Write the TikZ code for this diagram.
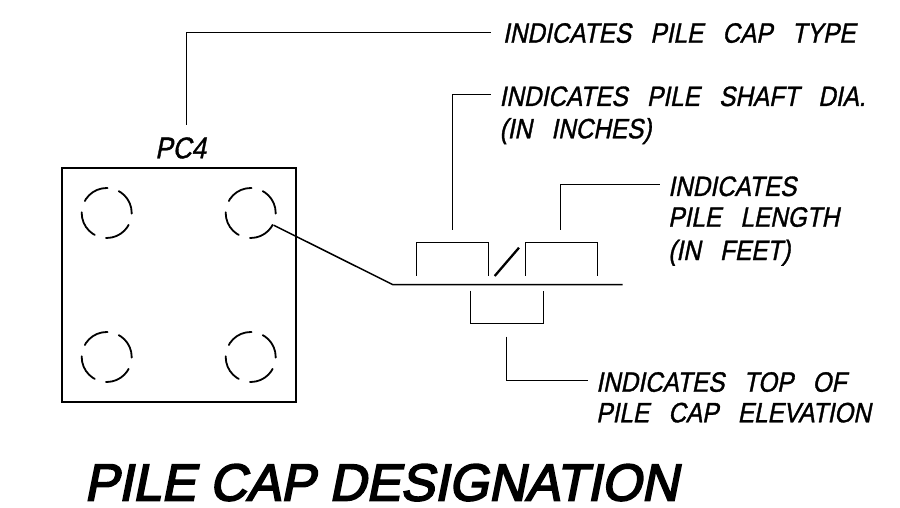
\documentclass[tikz,border=0pt]{standalone}
\usepackage{fontspec}
\newfontfamily\lblfont{Liberation Sans}[FakeStretch=0.87,FakeSlant=0.2,FakeBold=1.2,WordSpace=2.85]
\newfontfamily\titlefont{Liberation Sans}[FakeStretch=0.985,FakeSlant=0.2,FakeBold=3.4]
\tikzset{
  lbl/.style={anchor=base west,inner sep=0pt,font=\lblfont\fontsize{28}{28}\selectfont},
  ttl/.style={anchor=base west,inner sep=0pt,font=\titlefont\fontsize{52}{52}\selectfont},
  lead/.style={line width=1.5pt,line join=miter},
  capbox/.style={line width=2pt},
  pile/.style={circle,draw,inner sep=0pt,minimum size=50pt,line width=1.8pt,line cap=round,dash pattern=on 27.5pt off 11.77pt,dash phase=0.87pt}
}
\begin{document}
\begin{tikzpicture}[x=1pt,y=-1pt]
\useasboundingbox (0,0) rectangle (900,508);
\fill[white] (0,0) rectangle (900,508);
\draw[capbox] (62,168) rectangle (296,402);
\node[pile] (p1) at (106.7,213) {};
\node[pile] (p2) at (250.7,213) {};
\node[pile] (p3) at (106.7,357) {};
\node[pile] (p4) at (250.7,357) {};
\node[lbl,font=\lblfont\fontsize{30}{30}\selectfont] (pc) at (155,158.3) {PC4};
\node[lbl] (t1) at (502.7,42.7) {INDICATES PILE CAP TYPE};
\node[lbl] (t2) at (499.3,106) {INDICATES PILE SHAFT DIA.};
\node[lbl] (t2b) at (499.3,138.3) {(IN INCHES)};
\node[lbl] (t3) at (668,196) {INDICATES};
\node[lbl] (t3b) at (668,226.7) {PILE LENGTH};
\node[lbl] (t3c) at (668,260) {(IN FEET)};
\node[lbl] (t4) at (596,391.7) {INDICATES TOP OF};
\node[lbl] (t4b) at (596,422.3) {PILE CAP ELEVATION};
\node[ttl] (title) at (84,500.5) {PILE CAP DESIGNATION};
\coordinate (typeS) at (186.5,125);
\coordinate (typeC) at (186.5,32.5);
\coordinate (typeE) at (490.5,32.5);
\coordinate (kink) at (392.5,284.5);
\coordinate (lineE) at (622.5,284.5);
\coordinate (shS) at (452.5,229.5);
\coordinate (shC) at (452.5,94.5);
\coordinate (shE) at (490.5,94.5);
\coordinate (lnS) at (560.5,229.5);
\coordinate (lnC) at (560.5,184.5);
\coordinate (lnE) at (659.5,184.5);
\coordinate (elS) at (506.5,336.5);
\coordinate (elC) at (506.5,380.5);
\coordinate (elE) at (587.5,380.5);
\coordinate (b1a) at (416.5,275.5);
\coordinate (b1b) at (416.5,242.5);
\coordinate (b1c) at (488.5,242.5);
\coordinate (b1d) at (488.5,275.5);
\coordinate (b2a) at (525.5,275.5);
\coordinate (b2b) at (525.5,242.5);
\coordinate (b2c) at (597.5,242.5);
\coordinate (b2d) at (597.5,275.5);
\coordinate (b3a) at (470.5,290.5);
\coordinate (b3b) at (470.5,323.5);
\coordinate (b3c) at (543.5,323.5);
\coordinate (b3d) at (543.5,290.5);
\coordinate (sla) at (494.7,276);
\coordinate (slb) at (519,247.7);
\draw[lead] (typeS) -- (typeC) -- (typeE);
\draw[lead] (p2.-28) -- (kink) -- (lineE);
\draw[lead] (shS) -- (shC) -- (shE);
\draw[lead] (lnS) -- (lnC) -- (lnE);
\draw[lead] (elS) -- (elC) -- (elE);
\draw[lead] (b1a) -- (b1b) -- (b1c) -- (b1d);
\draw[lead] (b2a) -- (b2b) -- (b2c) -- (b2d);
\draw[line width=2.3pt] (sla) -- (slb);
\draw[lead] (b3a) -- (b3b) -- (b3c) -- (b3d);
\end{tikzpicture}
\end{document}
